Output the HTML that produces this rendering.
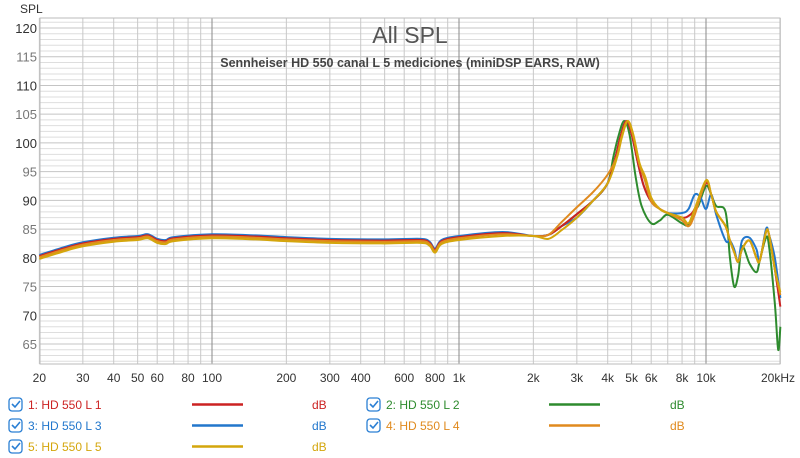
<!DOCTYPE html>
<html><head><meta charset="utf-8"><style>
body{margin:0;background:#fff;font-family:"Liberation Sans",sans-serif;}
svg{display:block}
</style></head><body>
<svg id="s" width="800" height="458" xmlns="http://www.w3.org/2000/svg" font-family="Liberation Sans, sans-serif"></svg>
<script>
const s=document.getElementById('s');
const X=f=>212+247*Math.log10(f/100);
const Y=d=>28+(120-d)*5.745;
let h='';
const L=40,R=780,T=18,B=364;
for(let d=62;d<=121;d++){const y=Y(d);if(y<T||y>B)continue;
 h+=`<line x1="${L}" x2="${R}" y1="${y}" y2="${y}" stroke="${d%5==0?'#c4c4c4':'#dedede'}" stroke-width="1"/>`;}
const fs=[20,30,40,50,60,70,80,90,100,200,300,400,500,600,700,800,900,1000,2000,3000,4000,5000,6000,7000,8000,9000,10000,20000];
fs.forEach(f=>{const x=X(f);const m=(f==100||f==1000||f==10000);
 h+=`<line x1="${x}" x2="${x}" y1="${T}" y2="${B}" stroke="${m?'#8a8a8a':'#c8c8c8'}" stroke-width="1"/>`;});
h+=`<rect x="${L}" y="${T}" width="${R-L}" height="${B-T}" fill="none" stroke="#bbb"/>`;
for(let d=65;d<=120;d+=5){h+=`<text x="37" y="${Y(d)+5}" text-anchor="end" font-size="13" fill="${d%10==0?'#333':'#777'}">${d}</text>`;}
h+=`<text x="20" y="13" font-size="12" fill="#333">SPL</text>`;
const xl=[[20,'20'],[30,'30'],[40,'40'],[50,'50'],[60,'60'],[80,'80'],[100,'100'],[200,'200'],[300,'300'],[400,'400'],[600,'600'],[800,'800'],[1000,'1k'],[2000,'2k'],[3000,'3k'],[4000,'4k'],[5000,'5k'],[6000,'6k'],[8000,'8k'],[10000,'10k']];
xl.forEach(([f,t])=>h+=`<text x="${X(f)}" y="382" text-anchor="middle" font-size="12" fill="#333">${t}</text>`);
h+=`<text x="778" y="382" text-anchor="middle" font-size="12" fill="#333">20kHz</text>`;
h+=`<text x="410" y="43" text-anchor="middle" font-size="23" fill="#555">All SPL</text>`;
h+=`<text x="410" y="67" text-anchor="middle" font-size="12.5" font-weight="bold" fill="#444">Sennheiser HD 550 canal L 5 mediciones (miniDSP EARS, RAW)</text>`;
const base=[[20,80.2],[25,81.5],[30,82.4],[40,83.2],[50,83.5],[55,83.8],[60,83.0],[65,82.8],[70,83.3],[100,83.8],[150,83.6],[200,83.3],[300,83.0],[500,82.9],[700,83.0],[760,82.5],[800,81.3],[850,82.8],[1000,83.5],[1500,84.2],[2000,83.8],[2300,84.0],[2600,85.5],[3000,87.6],[3500,90.0],[4000,93.0],[4300,97.5],[4500,101],[4750,103.8],[5000,101.5],[5300,96.5],[5600,92.5],[6000,89.8],[6500,88.5],[7000,87.8],[8000,87],[8500,87.3],[9000,88.5],[10000,93],[10500,91],[11000,88],[12000,85.5],[12500,83],[13000,81],[13500,79.3],[14000,81.5],[15000,83],[16000,80],[16500,79.5],[17500,84.5],[18000,84],[19000,78],[20000,71.5]];
function mk(ov,sh,lo){const m=new Map(base.map(p=>[p[0],p[1]+(p[0]<2000?lo:0)]));ov.forEach(([f,d])=>m.set(f,d));
 return [...m.entries()].sort((a,b)=>a[0]-b[0]).map(([f,d])=>[f*(f>4000&&f<6000?sh:1),d]);}
const ser=[
 ['#cc2222',mk([],1,0.1)],
 ['#2e8b2e',mk([[5300,94],[5600,89],[6000,86],[6500,86.5],[7000,87.5],[8000,86],[8500,85.8],[9300,89],[10000,92.5],[11000,89],[12000,88],[12500,80],[13000,75],[13500,77],[14000,82],[15000,79],[16000,77.5],[17500,83.5],[18000,82],[19000,72],[19600,64],[20000,68]],0.98,0)],
 ['#2277cc',mk([[3000,87],[8000,87.8],[8500,88.5],[9000,91],[9500,90.5],[10000,88.5],[11000,87.5],[12000,83],[13000,81.5],[14000,83],[15000,83.5],[16000,81.5],[17500,85],[19000,80],[20000,73]],1,0.3)],
 ['#e08a1e',mk([[2600,86.2],[3000,88.8],[3500,91.5],[4000,94.5],[5600,93.5],[8000,86.5],[8500,85.5],[9000,87.5],[10000,93.3],[20000,73.5]],1.01,-0.1)],
 ['#d4a60c',mk([[2300,83.3],[2600,84.8],[3000,87],[5600,94],[6000,90.5],[8500,86],[10000,93.5],[20000,74]],1.015,-0.4)]
];
function path(pts){const P=pts.map(([f,d])=>[X(f),Y(d)]);let p=`M${P[0][0]},${P[0][1]}`;
 for(let i=0;i<P.length-1;i++){const p0=P[i-1]||P[i],p1=P[i],p2=P[i+1],p3=P[i+2]||p2;
 p+=` C${p1[0]+(p2[0]-p0[0])/6},${p1[1]+(p2[1]-p0[1])/6} ${p2[0]-(p3[0]-p1[0])/6},${p2[1]-(p3[1]-p1[1])/6} ${p2[0]},${p2[1]}`;}return p;}
[1,2,0,3,4].forEach(i=>h+=`<path d="${path(ser[i][1])}" fill="none" stroke="${ser[i][0]}" stroke-width="2"/>`);
const lg=[[0,0,'1: HD 550 L 1','#cc2222'],[1,0,'2: HD 550 L 2','#2e8b2e'],[0,1,'3: HD 550 L 3','#2277cc'],[1,1,'4: HD 550 L 4','#e08a1e'],[0,2,'5: HD 550 L 5','#d4a60c']];
lg.forEach(([c,r,t,col])=>{const ox=c?366:8,y=404+r*21;
 h+=`<rect x="${ox+1}" y="${y-6}" width="13" height="13" rx="3" fill="#fff" stroke="#2a7fd4" stroke-width="1.3"/><path d="M${ox+4},${y} l3,3 l5,-6" fill="none" stroke="#2a7fd4" stroke-width="1.6"/>`;
 h+=`<text x="${ox+20}" y="${y+5}" font-size="12" fill="${col}">${t}</text>`;
 const lx=c?549:192;h+=`<line x1="${lx}" x2="${lx+51}" y1="${y+0.5}" y2="${y+0.5}" stroke="${col}" stroke-width="2.5"/>`;
 h+=`<text x="${c?670:312}" y="${y+5}" font-size="12" fill="${col}">dB</text>`;});
s.innerHTML=h;
</script>
</body></html>
